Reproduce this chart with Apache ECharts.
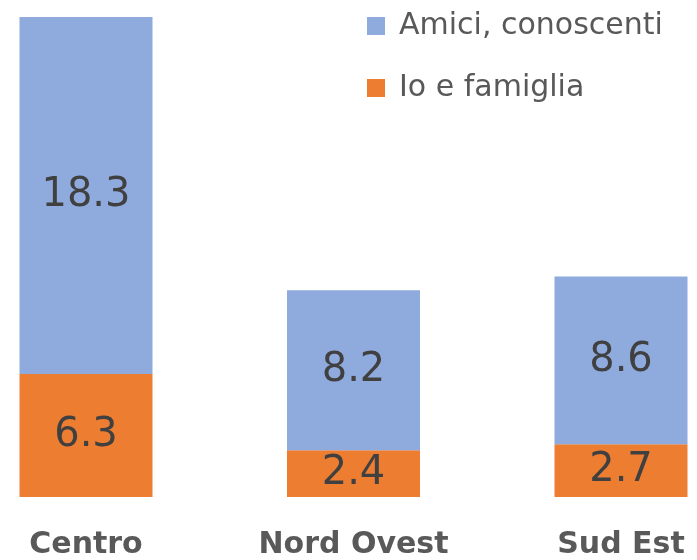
<!DOCTYPE html>
<html>
<head>
<meta charset="utf-8">
<script src="https://cdn.jsdelivr.net/npm/echarts@6/dist/echarts.min.js"></script>
<style>
  html, body { margin: 0; padding: 0; background: #fff; }
  #main { width: 697px; height: 560px; }
</style>
</head>
<body>
<div id="main"></div>
<script>
var categories = ['Centro', 'Nord Ovest', 'Sud Est'];
var famiglia = [6.3, 2.4, 2.7];
var amici = [18.3, 8.2, 8.6];

var font = 'DejaVu Sans';
var chart = echarts.init(document.getElementById('main'));
chart.setOption({
  animation: false,
  textStyle: { fontFamily: font },
  legend: {
    orient: 'vertical',
    left: 362,
    top: 6,
    itemWidth: 18,
    itemHeight: 18,
    itemGap: 32,
    icon: 'rect',
    data: ['Amici, conoscenti', 'Io e famiglia'],
    textStyle: { fontSize: 30, lineHeight: 30, color: '#595959', fontFamily: font, padding: [0, 0, 0, 9] }
  },
  grid: { left: 86, right: 76, top: 17, bottom: 63 },
  xAxis: {
    type: 'category',
    data: categories,
    boundaryGap: false,
    axisLine: { show: false },
    axisTick: { show: false },
    axisLabel: { fontSize: 30, fontWeight: 'bold', color: '#595959', margin: 33, fontFamily: font }
  },
  yAxis: {
    type: 'value',
    min: 0,
    max: 24.6,
    show: false,
    splitLine: { show: false }
  },
  series: [
    {
      name: 'Io e famiglia',
      type: 'bar',
      stack: 'tot',
      data: famiglia,
      barWidth: 133,
      clip: false,
      itemStyle: { color: '#ED7D31' },
      label: { show: true, position: 'inside', fontSize: 40, color: '#404040', fontFamily: font }
    },
    {
      name: 'Amici, conoscenti',
      type: 'bar',
      stack: 'tot',
      data: amici,
      barWidth: 133,
      clip: false,
      itemStyle: { color: '#8FAADC' },
      label: { show: true, position: 'inside', fontSize: 40, color: '#404040', fontFamily: font }
    }
  ]
});
</script>
</body>
</html>
